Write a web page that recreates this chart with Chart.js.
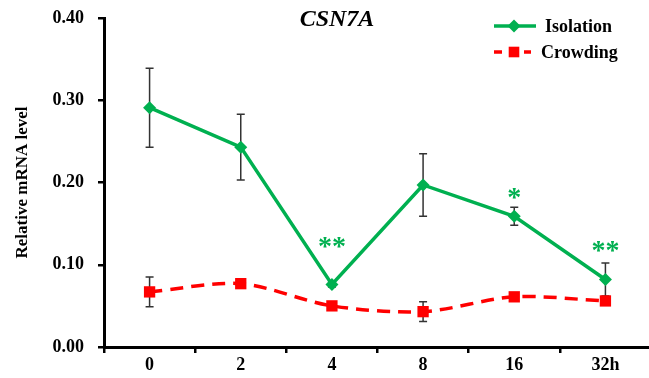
<!DOCTYPE html>
<html><head><meta charset="utf-8">
<script src="https://cdn.jsdelivr.net/npm/chart.js@4"></script>
<style>html,body{margin:0;padding:0;background:#fff;overflow:hidden}#wrap{width:649px;height:378px;position:relative;overflow:hidden}</style>
</head><body><div id="wrap"><canvas id="c" width="659" height="378"></canvas></div>
<script>
const categories = ['0', '2', '4', '8', '16', '32h'];
const isolation = [0.291, 0.243, 0.076, 0.197, 0.159, 0.082];
const isolationErr = [0.048, 0.040, 0.003, 0.038, 0.011, 0.020];
const crowding = [0.067, 0.077, 0.050, 0.043, 0.061, 0.056];
const crowdingErr = [0.018, 0.002, 0.002, 0.012, 0.004, 0.002];
const starLabels = ['', '', '**', '', '*', '**'];
const starLevels = [null, null, 0.130, null, 0.190, 0.125];
const yTicks = [0, 0.1, 0.2, 0.3, 0.4];

const GREEN = '#00b050', RED = '#ff0000';
const SERIF = '"Liberation Serif", "Times New Roman", serif';

const extras = {
  id: 'extras',
  beforeDatasetsDraw(chart) {
    const ctx = chart.ctx, x = chart.scales.x, y = chart.scales.y;
    ctx.save();
    ctx.strokeStyle = '#333';
    ctx.lineWidth = 1.5;
    const draw = (vals, errs) => {
      vals.forEach((v, i) => {
        const px = x.getPixelForValue(i);
        const t = y.getPixelForValue(v + errs[i]);
        const b = y.getPixelForValue(v - errs[i]);
        ctx.beginPath();
        ctx.moveTo(px, t); ctx.lineTo(px, b);
        ctx.moveTo(px - 4, t); ctx.lineTo(px + 4, t);
        ctx.moveTo(px - 4, b); ctx.lineTo(px + 4, b);
        ctx.stroke();
      });
    };
    draw(isolation, isolationErr);
    draw(crowding, crowdingErr);
    ctx.restore();
  },
  afterDraw(chart) {
    const ctx = chart.ctx, x = chart.scales.x, y = chart.scales.y;
    ctx.save();
    // stars
    ctx.fillStyle = GREEN;
    ctx.font = 'bold 28px ' + SERIF;
    ctx.textAlign = 'center';
    ctx.textBaseline = 'middle';
    starLabels.forEach((s, i) => {
      if (!s) return;
      const px = x.getPixelForValue(i);
      const py = y.getPixelForValue(starLevels[i]);
      ctx.fillText(s, px, py + 8);
    });
    // title
    ctx.fillStyle = '#000';
    ctx.font = 'italic bold 24px ' + SERIF;
    ctx.fillText('CSN7A', 337, 20);
    // legend
    const items = [
      {label: 'Isolation', color: GREEN, dash: false, style: 'rectRot', r: 6.5, yy: 26},
      {label: 'Crowding', color: RED, dash: true, style: 'rect', r: 7.5, yy: 52}
    ];
    items.forEach(it => {
      ctx.strokeStyle = it.color; ctx.fillStyle = it.color;
      ctx.lineWidth = 3.5;
      ctx.setLineDash([]);
      ctx.beginPath();
      if (it.dash) {
        ctx.moveTo(494, it.yy); ctx.lineTo(502, it.yy);
        ctx.moveTo(524, it.yy); ctx.lineTo(531, it.yy);
      } else {
        ctx.moveTo(494, it.yy); ctx.lineTo(536, it.yy);
      }
      ctx.stroke();
      Chart.helpers.drawPoint(ctx, {pointStyle: it.style, radius: it.r, borderWidth: 0}, 514, it.yy);
      ctx.fillStyle = '#000';
      ctx.font = 'bold 18px ' + SERIF;
      ctx.textAlign = 'left';
      ctx.fillText(it.label, it.dash ? 541 : 545, it.yy + 1);
    });
    ctx.restore();
  }
};

new Chart(document.getElementById('c'), {
  type: 'line',
  data: {
    labels: categories,
    datasets: [
      {label: 'Isolation', data: isolation, borderColor: GREEN, backgroundColor: GREEN,
       borderWidth: 3.5, pointStyle: 'rectRot', pointRadius: 6.5, pointBorderWidth: 0, tension: 0},
      {label: 'Crowding', data: crowding, borderColor: RED, backgroundColor: RED,
       borderWidth: 3.5, borderDash: [13, 8], pointStyle: 'rect', pointRadius: 8, pointBorderWidth: 0,
       tension: 0.3, cubicInterpolationMode: 'default'}
    ]
  },
  options: {
    responsive: false,
    animation: false,
    devicePixelRatio: 1,
    layout: {padding: {top: 18, right: 0, left: 12, bottom: 0}},
    plugins: {legend: {display: false}, title: {display: false}, tooltip: {enabled: false}},
    scales: {
      x: {
        offset: true,
        grid: {display: true, drawOnChartArea: false, offset: true, drawTicks: true, tickLength: 6, color: '#000', lineWidth: 2.5},
        border: {display: true, color: '#000', width: 3},
        ticks: {color: '#000', font: {family: SERIF, size: 18, weight: 'bold'}, padding: 2, maxRotation: 0},
        afterFit(s) { s.height = 31; s.paddingRight = 0; s.paddingLeft = 0; }
      },
      y: {
        min: 0, max: 0.4,
        afterBuildTicks(s) { s.ticks = yTicks.map(v => ({value: v})); },
        grid: {display: true, drawOnChartArea: false, drawTicks: true, tickLength: 6, color: '#000', lineWidth: 2.5},
        border: {display: true, color: '#000', width: 3},
        ticks: {color: '#000', font: {family: SERIF, size: 18, weight: 'bold'}, padding: 14,
                callback: v => Number(v).toFixed(2)},
        title: {display: true, text: 'Relative mRNA level', color: '#000', font: {family: SERIF, size: 17, weight: 'bold'}, padding: {top: 0, bottom: 8}},
        afterFit(s) { s.width = 92; s.paddingTop = 0; s.paddingBottom = 0; }
      }
    }
  },
  plugins: [extras]
});
</script></body></html>
